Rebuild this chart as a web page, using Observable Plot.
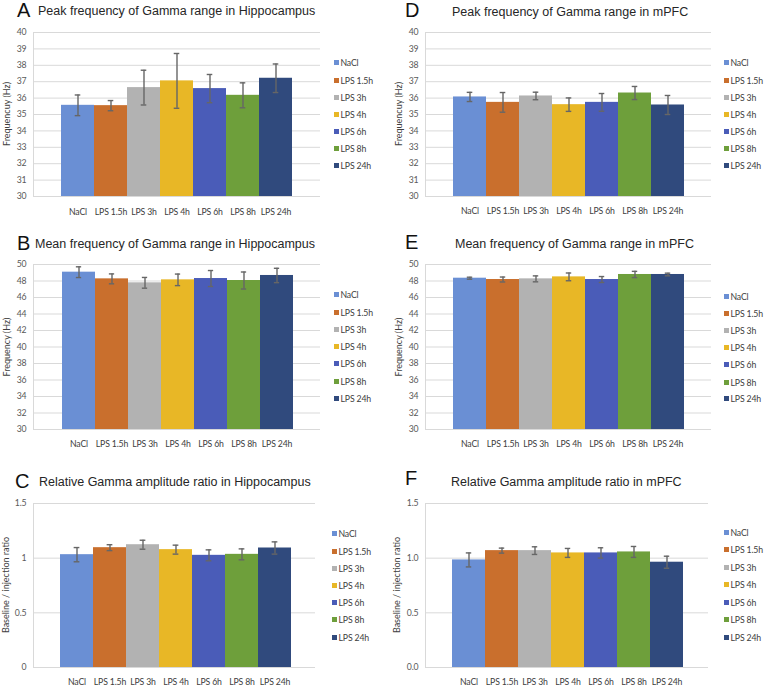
<!DOCTYPE html>
<html>
<head>
<meta charset="utf-8">
<script src="https://cdn.jsdelivr.net/npm/d3@7"></script>
<script src="https://cdn.jsdelivr.net/npm/@observablehq/plot@0.6"></script>
<style>
  html, body { margin: 0; padding: 0; background: #fff; }
  #root { position: relative; width: 766px; height: 686px; overflow: hidden; background: #fff; }
  #root svg { position: absolute; }
  .t { position: absolute; white-space: nowrap; line-height: 1; }
  .ylab { position: absolute; white-space: nowrap; line-height: 1; font-family: Lato, sans-serif; font-size: 9px; color: #404040; transform: translate(-50%, -50%) rotate(-90deg); }
  .leg { position: absolute; display: flex; align-items: center; height: 12px; font-family: Lato, sans-serif; font-size: 8.7px; letter-spacing: -0.15px; color: #404040; white-space: nowrap; }
  .leg i { display: inline-block; width: 5px; height: 5px; margin-right: 1.5px; }
</style>
</head>
<body>
<div id="root"></div>
<script>
// ---- data ----
const categories = ["NaCl", "LPS 1.5h", "LPS 3h", "LPS 4h", "LPS 6h", "LPS 8h", "LPS 24h"];
const colors = ["#6a8fd4", "#c96f2d", "#b2b2b2", "#e8b726", "#4a5cb8", "#6e9f3b", "#304a7d"];

const peakHippoMean = [35.56, 35.54, 36.64, 37.05, 36.58, 36.17, 37.21];
const peakHippoErr  = [0.63, 0.31, 1.06, 1.67, 0.86, 0.76, 0.87];
const peakMpfcMean  = [36.07, 35.74, 36.13, 35.60, 35.74, 36.31, 35.58];
const peakMpfcErr   = [0.28, 0.60, 0.23, 0.41, 0.54, 0.40, 0.58];
const meanHippoMean = [49.07, 48.26, 47.78, 48.14, 48.30, 48.06, 48.67];
const meanHippoErr  = [0.65, 0.60, 0.65, 0.70, 0.97, 1.03, 0.87];
const meanMpfcMean  = [48.34, 48.18, 48.26, 48.50, 48.18, 48.79, 48.79];
const meanMpfcErr   = [0.12, 0.30, 0.36, 0.47, 0.36, 0.38, 0.16];
const ampHippoMean  = [1.032, 1.096, 1.123, 1.078, 1.026, 1.035, 1.093];
const ampHippoErr   = [0.065, 0.027, 0.041, 0.041, 0.050, 0.050, 0.056];
const ampMpfcMean   = [0.984, 1.069, 1.069, 1.048, 1.048, 1.057, 0.963];
const ampMpfcErr    = [0.064, 0.023, 0.035, 0.041, 0.047, 0.050, 0.055];

const peakTicks  = [30, 31, 32, 33, 34, 35, 36, 37, 38, 39, 40];
const meanTicks  = [30, 32, 34, 36, 38, 40, 42, 44, 46, 48, 50];
const ratioTicks = [0, 0.5, 1, 1.5];

const panelLetters = ["A", "B", "C", "D", "E", "F"];
const panelTitles = [
  "Peak frequency of Gamma range in Hippocampus",
  "Mean frequency of Gamma range in Hippocampus",
  "Relative Gamma amplitude ratio in Hippocampus",
  "Peak frequency of Gamma range in mPFC",
  "Mean frequency of Gamma range in mPFC",
  "Relative Gamma amplitude ratio in mPFC"
];
const yLabels = ["Frequencuy (Hz)", "Frequency (Hz)", "Baseline / injection ratio",
                 "Frequencuy (Hz)", "Frequency (Hz)", "Baseline / injection ratio"];

// ---- layout ----
const panels = [
  {values: peakHippoMean, errors: peakHippoErr, ticks: peakTicks, domain: [30, 40], fmt: d => String(d),
   origin: [0, 0], L: 33, R: 320, T: 32, B: 196, bars: [59, 293], xpad: 12,
   letter: [17, 17], title: [38, 16], ylab: [6], legX: 334, legY: [62, 80, 97, 114, 131, 148, 165]},
  {values: meanHippoMean, errors: meanHippoErr, ticks: meanTicks, domain: [30, 50], fmt: d => String(d),
   origin: [0, 220], L: 33, R: 320, T: 264, B: 429, bars: [59, 295], xpad: 11,
   letter: [17, 250], title: [35, 249], ylab: [6], legX: 334, legY: [294, 312, 329, 346, 363, 381, 398]},
  {values: ampHippoMean, errors: ampHippoErr, ticks: ratioTicks, domain: [0, 1.5], fmt: d => String(d),
   origin: [0, 450], L: 33, R: 315, T: 503, B: 667, bars: [59, 292], xpad: 11,
   letter: [15, 488], title: [39, 487], ylab: [5], legX: 332, legY: [533, 551, 568, 585, 602, 619, 637]},
  {values: peakMpfcMean, errors: peakMpfcErr, ticks: peakTicks, domain: [30, 40], fmt: d => String(d),
   origin: [383, 0], L: 425, R: 711, T: 32, B: 196, bars: [451, 685], xpad: 11,
   letter: [405, 17], title: [452, 17], ylab: [398], legX: 724, legY: [62, 80, 97, 114, 131, 148, 165]},
  {values: meanMpfcMean, errors: meanMpfcErr, ticks: meanTicks, domain: [30, 50], fmt: d => String(d),
   origin: [383, 220], L: 425, R: 711, T: 264, B: 429, bars: [451, 686], xpad: 11,
   letter: [405, 249], title: [455, 249], ylab: [398], legX: 724, legY: [296, 313, 330, 347, 364, 382, 398]},
  {values: ampMpfcMean, errors: ampMpfcErr, ticks: ratioTicks, domain: [0, 1.5], fmt: d => d.toFixed(1),
   origin: [383, 450], L: 425, R: 708, T: 503, B: 667, bars: [450, 685], xpad: 11,
   letter: [405, 485], title: [451, 487], ylab: [396], legX: 724, legY: [532, 549, 567, 584, 602, 619, 637]}
];

const root = document.getElementById("root");

function addText(txt, x, baseline, fs, family, color) {
  const el = document.createElement("div");
  el.className = "t";
  el.textContent = txt;
  el.style.left = x + "px";
  el.style.top = (baseline - 0.847 * fs) + "px";
  el.style.fontSize = fs + "px";
  el.style.fontFamily = family;
  el.style.color = color;
  root.appendChild(el);
}

panels.forEach((p, k) => {
  const data = categories.map((c, i) => ({cat: c, v: p.values[i], e: p.errors[i]}));
  const [ox, oy] = p.origin;
  const step = (p.bars[1] - p.bars[0]) / categories.length;
  const capInset = (step - 6) / 2;
  const mb = 26;
  const bars = p.bars.map(v => v - ox);
  const fig = Plot.plot({
    width: p.R - ox,
    height: p.B - oy + mb,
    marginLeft: p.L - ox,
    marginRight: 0,
    marginTop: p.T - oy,
    marginBottom: mb,
    style: {background: "none", fontFamily: "Lato, sans-serif", fontSize: "8.7px", letterSpacing: "-0.15px", color: "#404040", overflow: "visible"},
    x: {domain: categories, range: bars, padding: 0, axis: null},
    y: {domain: p.domain, clamp: true, axis: null},
    color: {domain: categories, range: colors},
    marks: [
      Plot.gridY(p.ticks, {stroke: "#d9d9d9", strokeOpacity: 1, strokeWidth: 1}),
      Plot.frame({anchor: "left", stroke: "#d9d9d9", strokeWidth: 1}),
      Plot.barY(data, {x: "cat", y: "v", fill: "cat"}),
      Plot.ruleX(data, {x: "cat", y1: d => d.v - d.e, y2: d => d.v + d.e, stroke: "#666666", strokeWidth: 1.4}),
      Plot.tickY(data, {x: "cat", y: d => d.v - d.e, stroke: "#666666", strokeWidth: 1.4, insetLeft: capInset, insetRight: capInset}),
      Plot.tickY(data, {x: "cat", y: d => d.v + d.e, stroke: "#666666", strokeWidth: 1.4, insetLeft: capInset, insetRight: capInset}),
      Plot.axisY(p.ticks, {tickSize: 0, tickPadding: 7, tickFormat: p.fmt, label: null, fill: "#595959"}),
      Plot.axisX({tickSize: 0, tickPadding: p.xpad, label: null, fill: "#404040"})
    ]
  });
  fig.style.left = ox + "px";
  fig.style.top = oy + "px";
  root.appendChild(fig);

  // panel letter and title
  addText(panelLetters[k], p.letter[0], p.letter[1], 20, "'Liberation Sans', Arial, sans-serif", "#111");
  addText(panelTitles[k], p.title[0], p.title[1], 12.5, "'Liberation Sans', Arial, sans-serif", "#262626");

  // y label
  const yl = document.createElement("div");
  yl.className = "ylab";
  yl.textContent = yLabels[k];
  yl.style.left = p.ylab[0] + "px";
  yl.style.top = ((p.T + p.B) / 2) + "px";
  root.appendChild(yl);

  // legend
  categories.forEach((c, i) => {
    const it = document.createElement("div");
    it.className = "leg";
    it.style.left = p.legX + "px";
    it.style.top = (p.legY[i] - 6) + "px";
    const sw = document.createElement("i");
    sw.style.background = colors[i];
    it.appendChild(sw);
    it.appendChild(document.createTextNode(c));
    root.appendChild(it);
  });
});
</script>
</body>
</html>
